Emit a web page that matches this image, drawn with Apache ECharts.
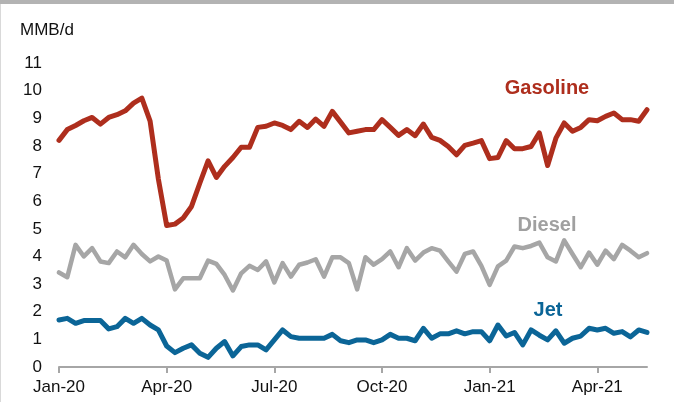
<!DOCTYPE html>
<html>
<head>
<meta charset="utf-8">
<script src="https://cdn.jsdelivr.net/npm/echarts@6/dist/echarts.min.js"></script>
<style>
  html, body { margin: 0; padding: 0; background: #fff; }
  #chart { width: 674px; height: 402px; }
</style>
</head>
<body>
<div id="chart"></div>
<script>
// Weekly observations, Jan-2020 to mid-May-2021 (72 weeks)
const weekStart = '2020-01-03';
const tickLabels = ['Jan-20', 'Apr-20', 'Jul-20', 'Oct-20', 'Jan-21', 'Apr-21'];
const tickIndexes = [0, 13, 26, 39, 52, 65];

const gasoline = [8.2, 8.59, 8.74, 8.91, 9.03, 8.79, 9.03, 9.13, 9.27, 9.55, 9.73, 8.9,
  6.8, 5.12, 5.17, 5.39, 5.81, 6.65, 7.46, 6.86, 7.26, 7.58, 7.95, 7.95,
  8.67, 8.71, 8.83, 8.74, 8.59, 8.89, 8.67, 8.97, 8.71, 9.25, 8.86, 8.47,
  8.53, 8.59, 8.59, 8.95, 8.67, 8.38, 8.59, 8.37, 8.79, 8.31, 8.2, 7.98,
  7.68, 8.02, 8.1, 8.19, 7.54, 7.58, 8.19, 7.9, 7.9, 7.98, 8.47, 7.29,
  8.28, 8.83, 8.53, 8.67, 8.95, 8.91, 9.07, 9.19, 8.95, 8.95, 8.89, 9.31];

const diesel = [3.42, 3.25, 4.42, 4.0, 4.3, 3.82, 3.76, 4.18, 3.97, 4.42, 4.09, 3.82,
  4.0, 3.85, 2.81, 3.21, 3.21, 3.21, 3.85, 3.73, 3.33, 2.77, 3.39, 3.66,
  3.51, 3.82, 3.06, 3.76, 3.27, 3.70, 3.78, 3.90, 3.27, 3.97, 3.97, 3.76,
  2.81, 3.97, 3.70, 3.90, 4.18, 3.61, 4.3, 3.85, 4.14, 4.3, 4.21, 3.82,
  3.45, 4.09, 4.18, 3.66, 2.97, 3.64, 3.85, 4.36, 4.3, 4.38, 4.50, 3.97,
  3.82, 4.58, 4.09, 3.61, 4.14, 3.70, 4.21, 3.90, 4.42, 4.21, 3.97, 4.12];

const jet = [1.70, 1.76, 1.58, 1.68, 1.68, 1.68, 1.38, 1.46, 1.76, 1.58, 1.76, 1.52,
  1.34, 0.76, 0.52, 0.68, 0.8, 0.50, 0.35, 0.68, 0.92, 0.40, 0.74, 0.8,
  0.8, 0.62, 0.98, 1.34, 1.10, 1.04, 1.04, 1.04, 1.04, 1.18, 0.95, 0.88,
  0.98, 0.98, 0.88, 0.98, 1.18, 1.04, 1.04, 0.95, 1.40, 1.04, 1.2, 1.2,
  1.31, 1.2, 1.28, 1.28, 0.95, 1.52, 1.12, 1.25, 0.8, 1.34, 1.15, 0.98,
  1.31, 0.86, 1.04, 1.12, 1.40, 1.34, 1.40, 1.22, 1.28, 1.09, 1.34, 1.25];

const yTicks = [0, 11, 1]; // min, max, interval

// weekly category labels
const weeks = [];
(function () {
  const d0 = new Date(weekStart + 'T00:00:00Z');
  for (let i = 0; i < gasoline.length; i++) {
    const d = new Date(d0.getTime() + i * 7 * 86400000);
    weeks.push(d.toISOString().slice(0, 10));
  }
})();

const FONT = '"Liberation Sans", Arial, sans-serif';
const RED = '#AE2E1D';
const GRAY = '#A6A6A6';
const BLUE = '#0B6597';

const chart = echarts.init(document.getElementById('chart'), null, { renderer: 'canvas' });
chart.setOption({
  animation: false,
  backgroundColor: '#ffffff',
  grid: { left: 59, right: 27, top: 63, bottom: 35 },
  xAxis: {
    type: 'category',
    data: weeks,
    boundaryGap: false,
    axisLine: { show: true, lineStyle: { color: '#A6A6A6', width: 2 } },
    axisTick: {
      show: true, length: 6, lineStyle: { color: '#A6A6A6', width: 2 },
      interval: function (idx) { return tickIndexes.indexOf(idx) >= 0; }
    },
    axisLabel: {
      interval: function (idx) { return tickIndexes.indexOf(idx) >= 0; },
      formatter: function (val, idx) {
        const k = tickIndexes.indexOf(idx);
        return k >= 0 ? tickLabels[k] : '';
      },
      color: '#111', fontSize: 17, fontFamily: FONT, margin: 12
    },
    splitLine: { show: false }
  },
  yAxis: {
    type: 'value',
    min: yTicks[0], max: yTicks[1], interval: yTicks[2],
    axisLine: { show: false },
    axisTick: { show: false },
    splitLine: { show: false },
    axisLabel: { color: '#111', fontSize: 17, fontFamily: FONT, margin: 17 }
  },
  series: [
    { name: 'Gasoline', type: 'line', data: gasoline, showSymbol: false, symbol: 'none',
      lineStyle: { color: RED, width: 5, join: 'round', cap: 'round' }, z: 3 },
    { name: 'Diesel', type: 'line', data: diesel, showSymbol: false, symbol: 'none',
      lineStyle: { color: GRAY, width: 4.5, join: 'round', cap: 'round' }, z: 2 },
    { name: 'Jet', type: 'line', data: jet, showSymbol: false, symbol: 'none',
      lineStyle: { color: BLUE, width: 5, join: 'round', cap: 'round' }, z: 2 }
  ],
  graphic: [
    { type: 'rect', left: 0, top: 0, shape: { width: 674, height: 4 }, style: { fill: '#B3B3B3' }, silent: true },
    { type: 'rect', left: 0, top: 4, shape: { width: 1, height: 398 }, style: { fill: '#D9D9D9' }, silent: true },
    { type: 'text', left: 20, top: 22, style: { text: 'MMB/d', fill: '#111', font: '17px ' + FONT } },
    { type: 'text', x: 547, y: 88, style: { text: 'Gasoline', fill: RED, font: 'bold 20px ' + FONT, textAlign: 'center', textVerticalAlign: 'middle' } },
    { type: 'text', x: 547, y: 225, style: { text: 'Diesel', fill: '#A0A0A0', font: 'bold 20px ' + FONT, textAlign: 'center', textVerticalAlign: 'middle' } },
    { type: 'text', x: 548, y: 310, style: { text: 'Jet', fill: BLUE, font: 'bold 20px ' + FONT, textAlign: 'center', textVerticalAlign: 'middle' } }
  ]
});
</script>
</body>
</html>
